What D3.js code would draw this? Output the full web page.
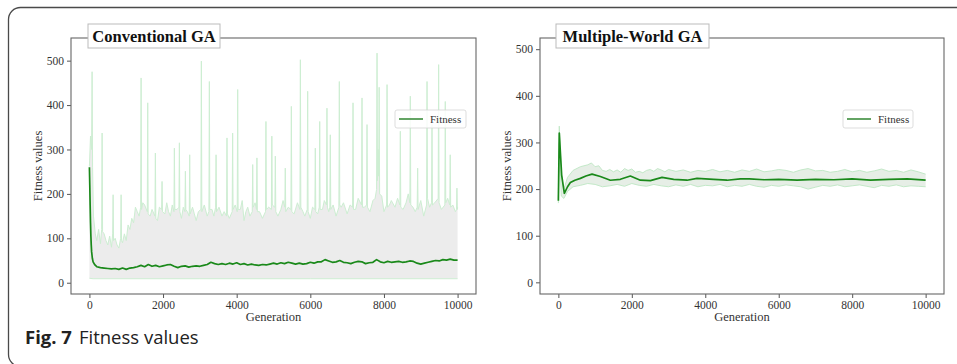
<!DOCTYPE html>
<html>
<head>
<meta charset="utf-8">
<script src="https://cdn.jsdelivr.net/npm/d3@7/dist/d3.min.js"></script>
<style>
  html, body { margin: 0; padding: 0; background: #fff; }
  svg { display: block; }
</style>
</head>
<body>
<svg id="chart" width="957" height="364"></svg>
<script>
// ---------------- DATA ----------------
const xTicks = [0, 2000, 4000, 6000, 8000, 10000];
const yTicks = [0, 100, 200, 300, 400, 500];
const titles = ["Conventional GA", "Multiple-World GA"];
const legendLabel = "Fitness";
const xLabel = "Generation";
const yLabel = "Fitness values";

// Conventional GA: mean fitness [generation, value]
const meanConv = [[0,260],[10,220],[20,175],[30,135],[40,105],[50,85],[60,70],[80,55],[100,47],[150,40],[200,36],
[300,34],[400,33],[500,32],[600,31],[700,32],[800,30],[900,33],[1000,30],[1100,33],[1200,34],[1300,36],[1400,39],
[1500,36],[1600,41],[1700,37],[1800,39],[1900,36],[2000,38],[2100,40],[2200,41],[2300,37],[2400,34],[2500,37],
[2600,38],[2700,35],[2800,37],[2900,38],[3000,37],[3100,39],[3200,41],[3300,46],[3400,43],[3500,41],[3600,43],
[3700,41],[3800,44],[3900,42],[4000,45],[4100,41],[4200,43],[4300,40],[4400,42],[4500,40],[4600,39],[4700,41],
[4800,40],[4900,42],[5000,44],[5100,42],[5200,45],[5300,43],[5400,46],[5500,44],[5600,42],[5700,44],[5800,42],
[5900,43],[6000,46],[6100,44],[6200,47],[6300,47],[6400,52],[6500,49],[6600,46],[6700,47],[6800,50],[6900,46],
[7000,45],[7100,43],[7200,46],[7300,48],[7400,47],[7500,43],[7600,45],[7700,46],[7800,52],[7900,47],[8000,45],
[8100,48],[8200,46],[8300,47],[8400,48],[8500,46],[8600,47],[8700,49],[8800,48],[8900,44],[9000,42],[9100,44],
[9200,46],[9300,48],[9400,50],[9500,49],[9600,52],[9700,51],[9800,53],[9900,51],[10000,51]];

// Conventional GA: max fitness envelope
const maxConv = [[0,262],[30,330],[60,300],[73,475],[86,260],[110,150],[160,110],[200,95],[250,120],[300,88],
[333,120],[345,337],[357,115],[400,110],[450,95],[500,85],[550,105],[600,80],[632,110],[644,198],[656,95],[700,100],
[750,85],[800,78],[849,100],[861,198],[873,95],[900,90],[950,110],[1000,95],[1050,130],[1100,120],[1150,145],
[1200,135],[1250,170],[1300,160],[1350,150],[1392,170],[1404,461],[1416,165],[1450,180],[1500,175],[1572,160],
[1584,405],[1596,155],[1650,150],[1700,165],[1780,150],[1792,292],[1804,145],[1850,140],[1900,170],[1961,165],
[1973,228],[1985,160],[2050,155],[2100,180],[2150,160],[2200,150],[2250,175],[2296,160],[2308,303],[2320,165],
[2380,165],[2432,170],[2444,315],[2456,160],[2500,145],[2550,170],[2595,160],[2607,251],[2619,165],[2660,160],
[2712,150],[2724,288],[2736,155],[2800,170],[2850,155],[2900,140],[2960,160],[3029,165],[3041,499],[3053,160],
[3120,175],[3200,150],[3246,160],[3258,453],[3270,165],[3330,165],[3380,150],[3428,170],[3440,288],[3452,160],
[3520,170],[3600,150],[3660,160],[3725,150],[3737,326],[3749,155],[3800,145],[3878,160],[3890,337],[3902,165],
[3960,175],[4015,160],[4027,435],[4039,165],[4100,165],[4150,185],[4200,140],[4250,160],[4300,170],[4360,150],
[4423,160],[4435,266],[4447,170],[4500,180],[4538,165],[4550,281],[4562,160],[4620,160],[4700,145],[4783,160],
[4795,363],[4807,165],[4870,170],[4943,165],[4955,330],[4967,175],[5038,170],[5050,285],[5062,160],[5120,150],
[5200,165],[5260,185],[5308,170],[5320,258],[5332,160],[5400,170],[5473,165],[5485,397],[5497,160],[5560,155],
[5650,180],[5718,165],[5730,502],[5742,170],[5800,160],[5850,150],[5916,165],[5928,431],[5940,160],[6000,145],
[6060,170],[6124,165],[6136,303],[6148,160],[6200,155],[6243,170],[6255,363],[6267,165],[6330,165],[6380,185],
[6440,175],[6452,393],[6464,170],[6500,160],[6531,170],[6543,333],[6555,165],[6620,175],[6700,150],[6776,170],
[6788,453],[6800,175],[6840,170],[6900,180],[7000,155],[7080,175],[7148,170],[7160,405],[7172,165],[7230,165],
[7300,190],[7392,175],[7404,416],[7416,170],[7470,170],[7528,175],[7540,356],[7552,170],[7620,160],[7700,185],
[7760,190],[7800,210],[7812,517],[7824,230],[7840,300],[7858,240],[7870,440],[7882,200],[7940,195],[8000,160],
[8072,175],[8084,446],[8096,170],[8150,175],[8200,185],[8300,170],[8370,190],[8433,175],[8445,341],[8457,170],
[8520,165],[8600,180],[8660,200],[8704,180],[8716,420],[8728,175],[8790,170],[8850,160],[8903,170],[8915,258],
[8927,165],[9000,185],[9080,150],[9158,175],[9170,453],[9182,190],[9240,170],[9293,180],[9305,356],[9317,175],
[9380,180],[9473,190],[9485,491],[9497,180],[9560,165],[9654,175],[9666,408],[9678,180],[9730,190],[9788,175],
[9800,288],[9812,170],[9870,175],[9940,160],[9970,165],[9982,213],[9994,165],[10000,170]];

// Conventional GA: min fitness envelope
const minConv = [[0,10],[100,9],[3000,9],[6000,9],[10000,9]];

// Multiple-World GA: mean fitness
const meanMW = [[0,175],[25,320],[90,230],[163,191],[250,205],[327,214],[450,219],[600,223],[750,228],[917,232],
[1143,227],[1415,219],[1688,221],[1960,228],[2232,219],[2505,218],[2823,225],[3140,221],[3503,219],[3775,223],
[4229,221],[4592,219],[4955,222],[5200,222],[5600,220],[6000,221],[6500,219],[7000,221],[7500,220],[8000,222],
[8500,219],[9000,221],[9500,222],[10000,219]];

// Multiple-World GA: upper envelope
const maxMW = [[0,180],[25,335],[80,230],[150,200],[250,225],[400,240],[600,248],[800,252],[900,256],[1000,248],
[1100,250],[1200,240],[1300,238],[1400,242],[1500,237],[1600,241],[1700,236],[1800,244],[1900,240],[2000,243],
[2100,236],[2200,238],[2300,235],[2400,240],[2500,242],[2600,238],[2700,244],[2800,241],[2900,237],[3000,242],
[3200,238],[3400,241],[3600,236],[3800,240],[4000,238],[4200,242],[4400,237],[4600,240],[4800,236],[5000,241],
[5200,238],[5400,243],[5600,237],[5800,239],[6000,242],[6200,240],[6400,236],[6600,241],[6800,244],[7000,239],
[7200,240],[7400,236],[7600,238],[7800,242],[8000,237],[8200,240],[8400,236],[8600,239],[8800,243],[9000,238],
[9200,240],[9400,236],[9600,241],[9800,237],[10000,232]];

// Multiple-World GA: lower envelope
const minMW = [[0,170],[25,300],[80,185],[150,180],[250,195],[400,205],[600,208],[800,212],[1000,210],[1200,205],
[1400,207],[1600,210],[1800,206],[2000,212],[2200,208],[2400,206],[2600,210],[2800,207],[3000,205],[3200,209],
[3400,206],[3600,210],[3800,205],[4000,208],[4200,207],[4400,210],[4600,205],[4800,208],[5000,206],[5200,210],
[5400,206],[5600,204],[5800,208],[6000,206],[6200,209],[6400,207],[6600,205],[6800,200],[7000,204],[7200,208],
[7400,206],[7600,209],[7800,205],[8000,207],[8200,209],[8400,206],[8600,203],[8800,208],[9000,206],[9200,209],
[9400,205],[9600,207],[9800,206],[10000,205]];

// ---------------- DRAW ----------------
const svg = d3.select("#chart");
const serif = "'Liberation Serif','Times New Roman',serif";

// card frame
svg.append("rect").attr("x", 8.5).attr("y", 7.5).attr("width", 1100).attr("height", 359)
  .attr("rx", 12).attr("fill", "none").attr("stroke", "#4a4a4a").attr("stroke-width", 1.3);

function bandOf(a, b) { // pair lower/upper envelopes on common generations for the fill
  const xs = Array.from(new Set(a.map(d => d[0]).concat(b.map(d => d[0])))).sort((p, q) => p - q);
  const at = (arr, x) => {
    for (let i = 0; i < arr.length - 1; i++) {
      if (x >= arr[i][0] && x <= arr[i + 1][0]) {
        const t = (x - arr[i][0]) / (arr[i + 1][0] - arr[i][0]);
        return arr[i][1] + t * (arr[i + 1][1] - arr[i][1]);
      }
    }
    return arr[arr.length - 1][1];
  };
  return xs.map(x => ({ x, lo: at(a, x), hi: at(b, x) }));
}

const panels = [
  { left: 71, right: 476, top: 38, bottom: 294, yDom: [-25.4, 551], mean: meanConv, hi: maxConv, lo: minConv,
    title: titles[0], tBox: [88, 220], legend: [395, 466], ylabX: 38, fill: "#ececec", envColor: "#cdeed2" },
  { left: 540, right: 944, top: 38, bottom: 294, yDom: [-25, 524], mean: meanMW, hi: maxMW, lo: minMW,
    title: titles[1], tBox: [556, 709], legend: [843, 913], ylabX: 507, fill: "#e6eee6", envColor: "#c3e9c8" }
];

panels.forEach(p => {
  const x = d3.scaleLinear().domain([-500, 10500]).range([p.left, p.right]);
  const y = d3.scaleLinear().domain(p.yDom).range([p.bottom, p.top]);
  const g = svg.append("g");

  const band = bandOf(p.lo, p.hi);
  g.append("path").datum(band)
    .attr("d", d3.area().x(d => x(d.x)).y0(d => y(d.lo)).y1(d => y(d.hi)))
    .attr("fill", p.fill);

  const line = d3.line().x(d => x(d[0])).y(d => y(d[1]));
  g.append("path").datum(p.hi).attr("d", line).attr("fill", "none")
    .attr("stroke", p.envColor).attr("stroke-width", 1);
  g.append("path").datum(p.lo).attr("d", line).attr("fill", "none")
    .attr("stroke", p.envColor).attr("stroke-width", 1);
  g.append("path").datum(p.mean).attr("d", line).attr("fill", "none")
    .attr("stroke", "#1a891a").attr("stroke-width", 1.7).attr("stroke-linejoin", "round");

  // axes
  const xAxis = g.append("g").attr("transform", `translate(0,${p.bottom})`)
    .call(d3.axisBottom(x).tickValues(xTicks).tickSize(4).tickPadding(3).tickFormat(d3.format("d")));
  const yAxis = g.append("g").attr("transform", `translate(${p.left},0)`)
    .call(d3.axisLeft(y).tickValues(yTicks).tickSize(4).tickPadding(3));
  [xAxis, yAxis].forEach(a => {
    a.attr("font-family", serif).attr("font-size", 11.5);
    a.select(".domain").remove();
    a.selectAll(".tick line").attr("stroke", "#555");
    a.selectAll(".tick text").attr("fill", "#333");
  });

  // spines
  g.append("rect").attr("x", p.left).attr("y", p.top).attr("width", p.right - p.left)
    .attr("height", p.bottom - p.top).attr("fill", "none").attr("stroke", "#666").attr("stroke-width", 1.1);

  // axis labels
  g.append("text").attr("x", (p.left + p.right) / 2).attr("y", 321).attr("text-anchor", "middle")
    .attr("font-family", serif).attr("font-size", 12.5).attr("fill", "#333").text(xLabel);
  g.append("text").attr("transform", `translate(${p.ylabX},${(p.top + p.bottom) / 2}) rotate(-90)`)
    .attr("text-anchor", "middle").attr("dy", "0.35em")
    .attr("font-family", serif).attr("font-size", 12.5).attr("fill", "#333").text(yLabel);

  // title box
  g.append("rect").attr("x", p.tBox[0]).attr("y", 24).attr("width", p.tBox[1] - p.tBox[0]).attr("height", 24)
    .attr("fill", "#fff").attr("stroke", "#bbb").attr("stroke-width", 1);
  g.append("text").attr("x", (p.tBox[0] + p.tBox[1]) / 2).attr("y", 42).attr("text-anchor", "middle")
    .attr("font-family", serif).attr("font-weight", "bold").attr("font-size", 16.5).attr("fill", "#111")
    .text(p.title);

  // legend
  const [l0, l1] = p.legend;
  g.append("rect").attr("x", l0).attr("y", 110).attr("width", l1 - l0).attr("height", 18).attr("rx", 2)
    .attr("fill", "#fff").attr("fill-opacity", 0.85).attr("stroke", "#d4d4d4").attr("stroke-width", 0.8);
  g.append("line").attr("x1", l0 + 4).attr("x2", l0 + 28).attr("y1", 119).attr("y2", 119)
    .attr("stroke", "#3e8e3e").attr("stroke-width", 1.6);
  g.append("text").attr("x", l0 + 35).attr("y", 123)
    .attr("font-family", serif).attr("font-size", 11).attr("fill", "#333").text(legendLabel);
});

// caption
const cap = svg.append("text").attr("x", 25).attr("y", 344)
  .attr("font-family", "'Open Sans','Noto Sans',sans-serif").attr("font-size", 18.5).attr("fill", "#222");
cap.append("tspan").attr("font-weight", "bold").text("Fig. 7");
cap.append("tspan").attr("dx", 7).text("Fitness values");
</script>
</body>
</html>
